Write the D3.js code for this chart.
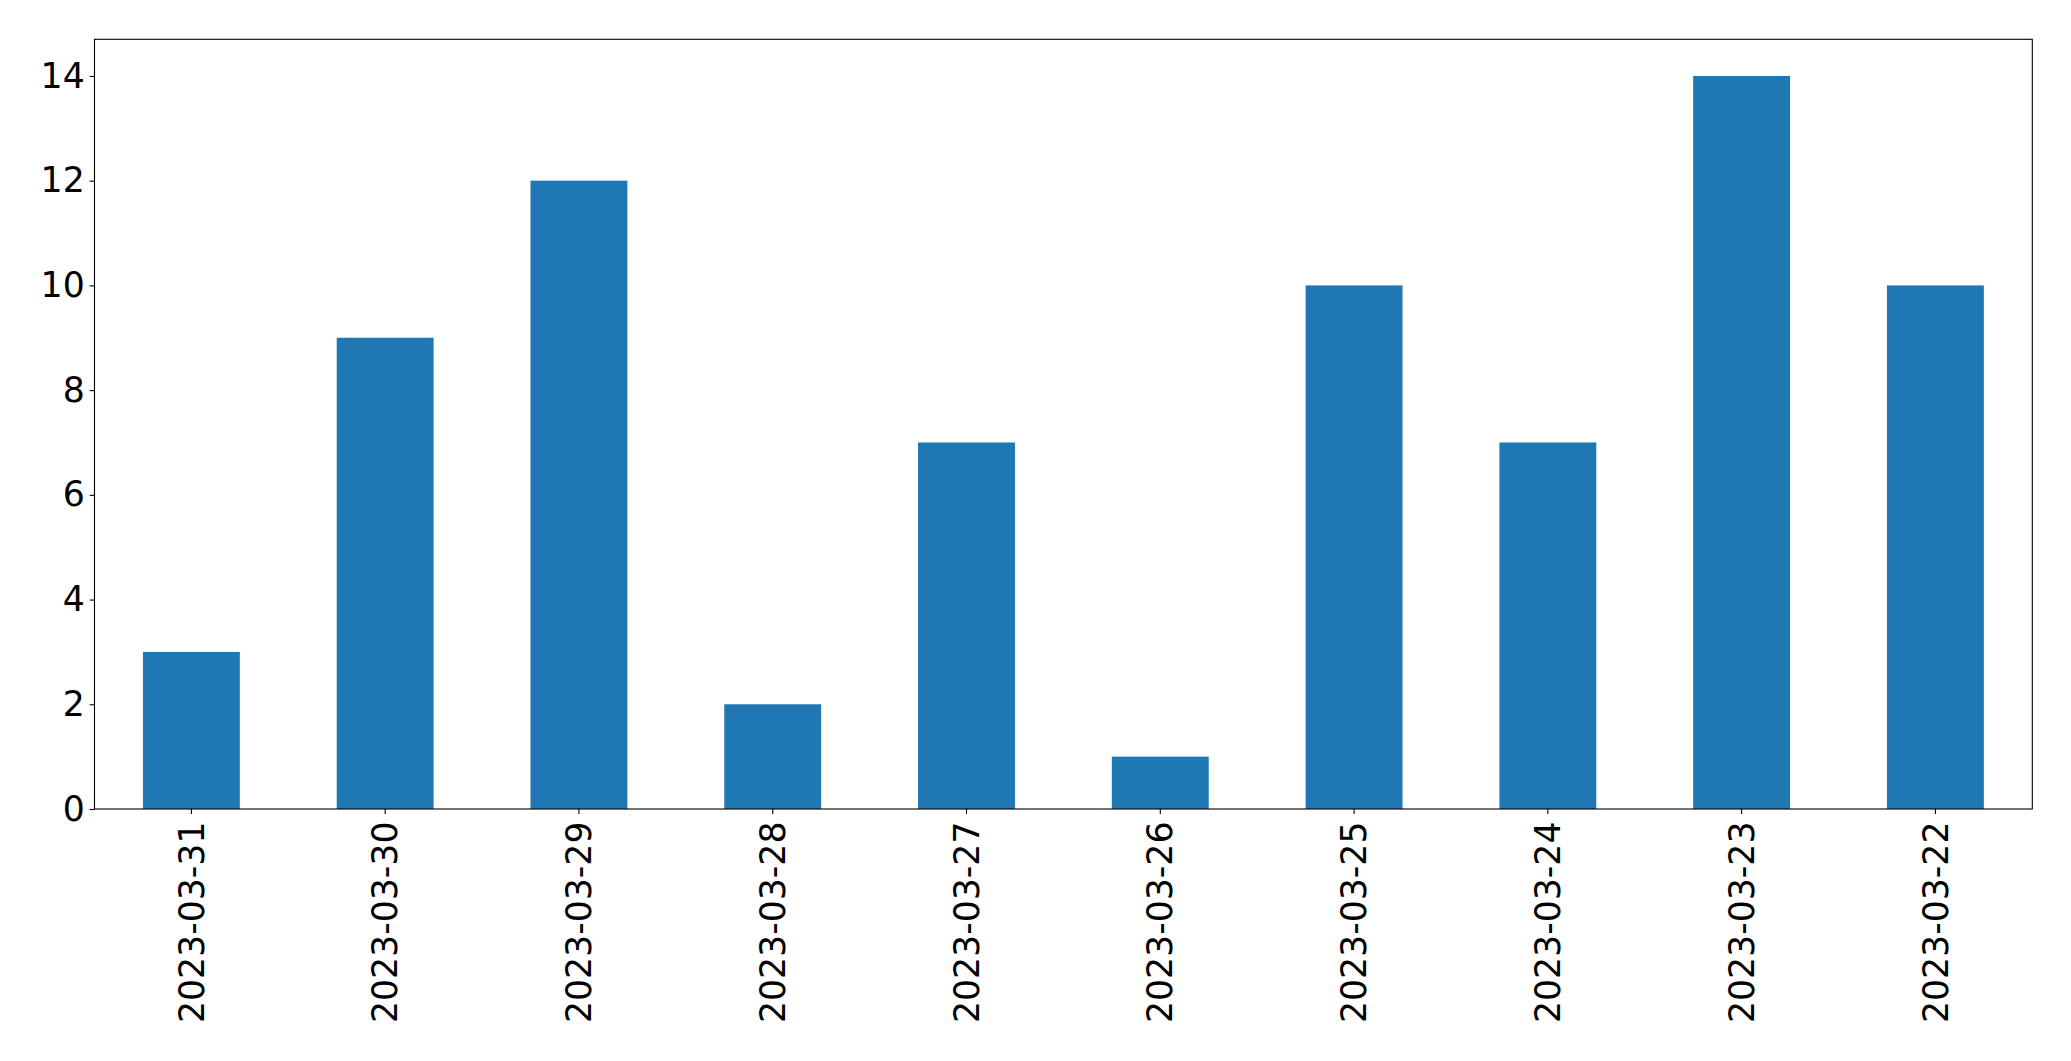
<!DOCTYPE html>
<html>
<head>
<meta charset="utf-8">
<script src="https://cdn.jsdelivr.net/npm/d3@7"></script>
<style>
  html, body { margin: 0; padding: 0; background: #fff; }
  svg { display: block; }
  text { font-family: "DejaVu Sans", sans-serif; }
</style>
</head>
<body>
<script>
const categories = ["2023-03-31","2023-03-30","2023-03-29","2023-03-28","2023-03-27","2023-03-26","2023-03-25","2023-03-24","2023-03-23","2023-03-22"];
const values = [3, 9, 12, 2, 7, 1, 10, 7, 14, 10];
const yTicks = [0, 2, 4, 6, 8, 10, 12, 14];

const W = 2071, H = 1061;
const mLeft = 94.5, mRight = 2032.3, mTop = 39.3, mBottom = 809;
const fontPx = 34.7;

const svg = d3.select("body").append("svg").attr("width", W).attr("height", H);

const x = d3.scaleBand().domain(categories).range([mLeft, mRight]).paddingInner(0.5).paddingOuter(0.25);
const y = d3.scaleLinear().domain([0, 14.7]).range([mBottom, mTop]);

svg.append("g").selectAll("rect").data(values).join("rect")
  .attr("x", (d, i) => x(categories[i]))
  .attr("width", x.bandwidth())
  .attr("y", d => y(d))
  .attr("height", d => y(0) - y(d))
  .attr("fill", "#1f77b4");

// axes
const yAxis = d3.axisLeft(y).tickValues(yTicks).tickSize(4.9).tickPadding(4.9).tickFormat(d3.format("d"));
const gy = svg.append("g").attr("transform", `translate(${mLeft},0)`).call(yAxis);
gy.select(".domain").remove();
gy.selectAll("line").attr("stroke", "#000").attr("stroke-width", 1.1);
gy.selectAll("text").attr("font-size", fontPx).attr("fill", "#000").attr("font-family", "DejaVu Sans");

const xAxis = d3.axisBottom(x).tickSize(4.9).tickPadding(0);
const gx = svg.append("g").attr("transform", `translate(0,${mBottom})`).call(xAxis);
gx.select(".domain").remove();
gx.selectAll("line").attr("stroke", "#000").attr("stroke-width", 1.1);
gx.selectAll("text")
  .attr("font-size", fontPx).attr("fill", "#000").attr("font-family", "DejaVu Sans")
  .attr("transform", "rotate(-90)")
  .attr("text-anchor", "end")
  .attr("x", -12.5)
  .attr("y", 0)
  .attr("dy", "0.35em");

// frame
svg.append("rect")
  .attr("x", mLeft).attr("y", mTop)
  .attr("width", mRight - mLeft).attr("height", mBottom - mTop)
  .attr("fill", "none").attr("stroke", "#000").attr("stroke-width", 1.1);
</script>
</body>
</html>
